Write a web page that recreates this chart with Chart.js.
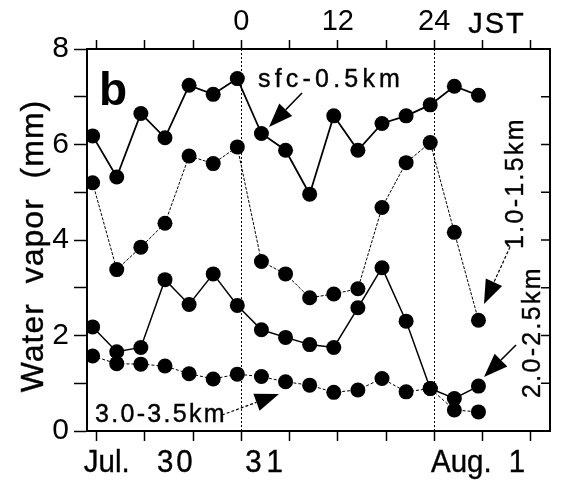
<!DOCTYPE html>
<html>
<head>
<meta charset="utf-8">
<script src="https://cdn.jsdelivr.net/npm/chart.js@4.4.0/dist/chart.umd.min.js"></script>
<style>
  html, body { margin: 0; padding: 0; background: #fff; }
  canvas { display: block; }
</style>
</head>
<body>
<canvas id="vapor-chart" width="564" height="480"></canvas>
<script>
// hours relative to 00 JST Jul. 31 (3-hourly soundings)
const hours = [-18.5, -15.5, -12.5, -9.5, -6.5, -3.5, -0.5, 2.5, 5.5, 8.5, 11.5, 14.5, 17.5, 20.5, 23.5, 26.5, 29.5];

const sfcLayer = [6.18, 5.32, 6.65, 6.14, 7.24, 7.05, 7.38, 6.23, 5.88, 4.96, 6.60, 5.88, 6.44, 6.60, 6.83, 7.22, 7.03];
const layer1 = [5.20, 3.38, 3.85, 4.35, 5.76, 5.60, 5.95, 3.55, 3.29, 2.79, 2.87, 2.98, 4.68, 5.62, 6.04, 4.16, 2.32];
const layer2 = [2.18, 1.66, 1.75, 3.17, 2.65, 3.29, 2.63, 2.12, 1.96, 1.81, 1.75, 2.58, 3.42, 2.30, 0.89, 0.68, 0.94];
const layer3 = [1.57, 1.41, 1.40, 1.36, 1.20, 1.09, 1.19, 1.14, 1.03, 0.96, 0.81, 0.86, 1.10, 0.82, 0.89, 0.44, 0.40];

const layerNames = ['sfc-0.5km', '1.0-1.5km', '2.0-2.5km', '3.0-3.5km'];
const hourTicks = [-18, -12, -6, 0, 6, 12, 18, 24, 30, 36];
const jstLabels = { 0: '0', 12: '12', 24: '24' };
const dayLines = [0, 24];

const FONT = '"Liberation Sans", Arial, Helvetica, sans-serif';

function toPoints(values) {
    return values.map((v, i) => ({ x: hours[i], y: v }));
}

function makeSet(label, values, width, dash) {
    return {
        label: label,
        data: toPoints(values),
        borderColor: '#000',
        borderWidth: width,
        borderDash: dash,
        backgroundColor: '#000',
        pointBackgroundColor: '#000',
        pointBorderWidth: 0,
        pointRadius: 7.5,
        pointHoverRadius: 7.5,
        tension: 0
    };
}

function drawArrow(ctx, x1, y1, x2, y2, dash) {
    const ang = Math.atan2(y2 - y1, x2 - x1);
    const len = 24, half = 9;
    const bx = x2 - len * Math.cos(ang), by = y2 - len * Math.sin(ang);
    ctx.save();
    ctx.strokeStyle = '#000';
    ctx.fillStyle = '#000';
    ctx.lineWidth = dash ? 1.2 : 1.6;
    ctx.setLineDash(dash ? [3, 2] : []);
    ctx.beginPath();
    ctx.moveTo(x1, y1);
    ctx.lineTo(bx, by);
    ctx.stroke();
    ctx.setLineDash([]);
    ctx.beginPath();
    ctx.moveTo(x2, y2);
    ctx.lineTo(bx + half * Math.sin(ang), by - half * Math.cos(ang));
    ctx.lineTo(bx - half * Math.sin(ang), by + half * Math.cos(ang));
    ctx.closePath();
    ctx.fill();
    ctx.restore();
}

// text with letter spacing, optional horizontal squeeze and a light stroke (scanned look)
function spacedText(ctx, text, x, y, size, spacing, align, opts) {
    opts = opts || {};
    ctx.save();
    ctx.translate(x, y);
    if (opts.rotate) ctx.rotate(opts.rotate);
    if (opts.sx) ctx.scale(opts.sx, 1);
    ctx.font = (opts.bold ? 'bold ' : '') + size + 'px ' + FONT;
    ctx.letterSpacing = spacing + 'px';
    ctx.textAlign = align;
    ctx.fillText(text, 0, 0);
    if (!opts.bold) {
        ctx.lineWidth = 0.4;
        ctx.strokeText(text, 0, 0);
    }
    ctx.restore();
}

// dotted day lines, right axis inward ticks, labels and arrows
const decorations = {
    id: 'decorations',
    beforeDatasetsDraw(chart) {
        const ctx = chart.ctx;
        const xs = chart.scales.x;
        const area = chart.chartArea;
        ctx.save();
        ctx.strokeStyle = '#000';
        ctx.lineWidth = 1;
        ctx.setLineDash([2, 2]);
        dayLines.forEach(h => {
            const px = Math.round(xs.getPixelForValue(h)) + 0.5;
            ctx.beginPath();
            ctx.moveTo(px, area.top);
            ctx.lineTo(px, area.bottom);
            ctx.stroke();
        });
        ctx.restore();
    },
    afterDraw(chart) {
        const ctx = chart.ctx;
        const xs = chart.scales.x;
        const ys = chart.scales.y;
        const area = chart.chartArea;
        ctx.save();
        ctx.fillStyle = '#000';
        ctx.strokeStyle = '#000';
        ctx.textBaseline = 'alphabetic';

        // right axis ticks point inward
        ctx.lineWidth = 1.5;
        for (let v = 1; v < 8; v++) {
            const py = ys.getPixelForValue(v);
            ctx.beginPath();
            ctx.moveTo(area.right, py);
            ctx.lineTo(area.right - 9, py);
            ctx.stroke();
        }

        // top axis unit
        spacedText(ctx, 'JST', xs.getPixelForValue(31.8), 33, 29, 2, 'center');

        // bottom date labels
        spacedText(ctx, 'Jul.', xs.getPixelForValue(-19.6), 472, 31, 0, 'left', { sx: 0.95 });
        spacedText(ctx, '30', xs.getPixelForValue(-5.7), 472, 31, 3, 'right', { sx: 0.95 });
        spacedText(ctx, '31', xs.getPixelForValue(0.5), 472, 31, 5, 'left', { sx: 0.95 });
        spacedText(ctx, 'Aug.', xs.getPixelForValue(23.6), 472, 31, 0, 'left', { sx: 0.95 });
        spacedText(ctx, '1', xs.getPixelForValue(35.3), 472, 31, 0, 'right', { sx: 0.95 });

        // y axis title
        spacedText(ctx, 'Water  vapor  (mm)', 43, 246, 32, 1, 'center', { rotate: -Math.PI / 2 });

        // panel letter
        spacedText(ctx, 'b', 99, 105, 46, 0, 'left', { bold: true });

        // layer labels
        spacedText(ctx, layerNames[0], 258, 87, 25, 4.2, 'left');
        spacedText(ctx, layerNames[3], 95, 422, 25, 2.3, 'left');
        spacedText(ctx, layerNames[1], 523, 183, 25, 2.3, 'center', { rotate: -Math.PI / 2 });
        spacedText(ctx, layerNames[2], 540, 332, 25, 2.3, 'center', { rotate: -Math.PI / 2 });

        // arrows pointing at the series
        drawArrow(ctx, 302, 93, 269, 127, false);
        drawArrow(ctx, 510, 247, 484, 304, true);
        drawArrow(ctx, 516, 345, 484, 377, false);
        drawArrow(ctx, 222, 415, 279, 394, true);

        ctx.restore();
    }
};

const axisBorder = { display: true, color: '#000', width: 2 };

new Chart(document.getElementById('vapor-chart'), {
    type: 'line',
    data: {
        datasets: [
            makeSet(layerNames[0], sfcLayer, 1.8, []),
            makeSet(layerNames[1], layer1, 1, [3, 1.5]),
            makeSet(layerNames[2], layer2, 1.5, []),
            makeSet(layerNames[3], layer3, 1, [3, 2])
        ]
    },
    options: {
        responsive: false,
        animation: false,
        devicePixelRatio: 1,
        layout: { padding: 0 },
        plugins: {
            legend: { display: false },
            tooltip: { enabled: false }
        },
        scales: {
            x: {
                type: 'linear',
                position: 'bottom',
                min: -19.2,
                max: 38.4,
                afterBuildTicks: s => { s.ticks = hourTicks.map(v => ({ value: v })); },
                afterFit: s => { s.height = 49; },
                ticks: { display: false },
                grid: { drawOnChartArea: false, tickLength: 10, tickWidth: 1.5, tickColor: '#000' },
                border: axisBorder
            },
            x2: {
                type: 'linear',
                position: 'top',
                min: -19.2,
                max: 38.4,
                afterBuildTicks: s => { s.ticks = hourTicks.map(v => ({ value: v })); },
                afterFit: s => { s.height = 49; },
                ticks: {
                    autoSkip: false,
                    maxRotation: 0,
                    padding: 1,
                    color: '#000',
                    font: { family: FONT, size: 29 },
                    callback: v => jstLabels[v] || ''
                },
                grid: { drawOnChartArea: false, tickLength: 9, tickWidth: 1.5, tickColor: '#000' },
                border: axisBorder
            },
            y: {
                min: 0,
                max: 8,
                afterFit: s => { s.width = 87; },
                ticks: {
                    stepSize: 1,
                    padding: 5,
                    color: '#000',
                    font: { family: FONT, size: 30 },
                    callback: v => (v % 2 === 0 ? v : '')
                },
                grid: { drawOnChartArea: false, tickLength: 13, tickWidth: 1.5, tickColor: '#000' },
                border: axisBorder
            },
            y2: {
                position: 'right',
                min: 0,
                max: 8,
                afterFit: s => { s.width = 14; },
                ticks: { display: false },
                grid: { display: false },
                border: axisBorder
            }
        }
    },
    plugins: [decorations]
});
</script>
</body>
</html>
